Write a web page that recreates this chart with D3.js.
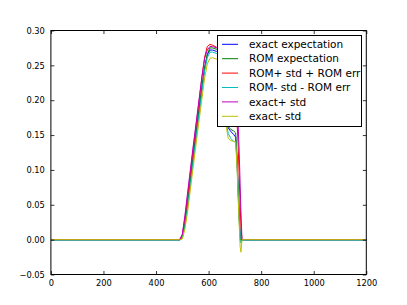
<!DOCTYPE html>
<html><head><meta charset="utf-8">
<script src="https://cdn.jsdelivr.net/npm/d3@7"></script>
<style>body{margin:0;background:#fff}svg{display:block}text{font-family:"DejaVu Sans",sans-serif}</style>
</head><body><svg id="c" width="407" height="305"></svg>
<script>
const xs = [0, 490, 500, 510, 520, 540, 560, 575, 585, 595, 605, 615, 630, 645, 655, 662, 668, 675, 685, 695, 703, 708, 712, 716, 720, 723, 727, 735, 1200];
const exactExp = [0, 0, 0.003, 0.022, 0.05, 0.115, 0.176, 0.22, 0.247, 0.265, 0.272, 0.272, 0.27, 0.266, 0.255, 0.215, 0.168, 0.16, 0.155, 0.151, 0.147, 0.115, 0.075, 0.035, 0.006, 0, 0, 0, 0];
const romExp = [0, 0, 0.003, 0.022, 0.05, 0.113, 0.173, 0.218, 0.246, 0.266, 0.275, 0.275, 0.273, 0.269, 0.258, 0.22, 0.175, 0.162, 0.158, 0.156, 0.153, 0.12, 0.08, 0.04, 0.005, -0.003, 0, 0, 0];
const romPlus = [0, 0, 0.006, 0.031, 0.062, 0.126, 0.187, 0.234, 0.262, 0.277, 0.28, 0.279, 0.276, 0.272, 0.262, 0.245, 0.225, 0.21, 0.2, 0.19, 0.18, 0.17, 0.14, 0.095, 0.05, 0.02, 0, 0, 0];
const romMinus = [-0.001, -0.001, 0.002, 0.019, 0.045, 0.108, 0.168, 0.213, 0.242, 0.261, 0.269, 0.269, 0.267, 0.262, 0.25, 0.21, 0.165, 0.152, 0.145, 0.141, 0.14, 0.11, 0.07, 0.03, 0.0, -0.005, -0.001, -0.001, -0.001];
const exactPlus = [0, 0, 0.008, 0.035, 0.067, 0.13, 0.19, 0.235, 0.26, 0.272, 0.277, 0.277, 0.275, 0.272, 0.265, 0.255, 0.245, 0.235, 0.225, 0.215, 0.205, 0.195, 0.17, 0.13, 0.08, 0.04, 0, 0, 0];
const exactMinus = [0, 0, 0.001, 0.015, 0.04, 0.1, 0.16, 0.203, 0.232, 0.252, 0.26, 0.261, 0.259, 0.255, 0.24, 0.2, 0.16, 0.145, 0.142, 0.141, 0.14, 0.105, 0.065, 0.025, -0.01, -0.018, 0, 0, 0];
const seriesNames = ["exact expectation", "ROM expectation", "ROM+ std + ROM err", "ROM- std - ROM err", "exact+ std", "exact- std"];
const seriesColors = ["#0000ff", "#008000", "#ff0000", "#00bfbf", "#bf00bf", "#bfbf00"];
const seriesValues = [exactExp, romExp, romPlus, romMinus, exactPlus, exactMinus];
const xTicks = [0, 200, 400, 600, 800, 1000, 1200];
const yTicks = [-0.05, 0.00, 0.05, 0.10, 0.15, 0.20, 0.25, 0.30];

const svg = d3.select("#c");
const L = 50.9, R = 366.3, T = 30.5, B = 274.5;
const x = d3.scaleLinear().domain([0, 1200]).range([L, R]);
const y = d3.scaleLinear().domain([-0.05, 0.30]).range([B, T]);

svg.append("clipPath").attr("id", "clip").append("rect")
  .attr("x", L).attr("y", T).attr("width", R - L).attr("height", B - T);

const line = d3.line().x((d, i) => x(xs[i])).y(d => y(d));
const g = svg.append("g").attr("clip-path", "url(#clip)");
seriesValues.forEach((vals, k) => {
  g.append("path").datum(vals).attr("d", line)
    .attr("fill", "none").attr("stroke", seriesColors[k]).attr("stroke-width", 1);
});

// axes
const fs = 8.3;
const ax = svg.append("g").attr("transform", `translate(0,${B})`)
  .call(d3.axisBottom(x).tickValues(xTicks).tickSize(-3.5).tickPadding(6).tickFormat(d3.format("d")));
const ay = svg.append("g").attr("transform", `translate(${L},0)`)
  .call(d3.axisLeft(y).tickValues(yTicks).tickSize(-3.5).tickPadding(6)
    .tickFormat(d => (d < 0 ? "\u22120.05" : d3.format(".2f")(d))));
const axT = svg.append("g").attr("transform", `translate(0,${T})`)
  .call(d3.axisTop(x).tickValues(xTicks).tickSize(-3.5).tickFormat(""));
const ayR = svg.append("g").attr("transform", `translate(${R},0)`)
  .call(d3.axisRight(y).tickValues(yTicks).tickSize(-3.5).tickFormat(""));
[ax, ay, axT, ayR].forEach(a => {
  a.select(".domain").remove();
  a.selectAll("line").attr("stroke", "#000").attr("stroke-width", 0.8);
  a.selectAll("text").attr("font-size", fs).attr("fill", "#000").style("font-family", "DejaVu Sans");
});
svg.append("rect").attr("x", L).attr("y", T).attr("width", R - L).attr("height", B - T)
  .attr("fill", "none").attr("stroke", "#000").attr("stroke-width", 1);

// legend
const lg = svg.append("g");
lg.append("rect").attr("x", 217.5).attr("y", 35.5).attr("width", 144).attr("height", 91)
  .attr("fill", "#fff").attr("stroke", "#000").attr("stroke-width", 1);
seriesNames.forEach((n, k) => {
  const yy = 44.3 + k * 14.4;
  lg.append("line").attr("x1", 222).attr("x2", 238).attr("y1", yy).attr("y2", yy)
    .attr("stroke", seriesColors[k]).attr("stroke-width", 1);
  lg.append("text").attr("x", 249).attr("y", yy).attr("dy", "0.35em")
    .attr("font-size", 10.5).attr("fill", "#000").text(n);
});
</script></body></html>
